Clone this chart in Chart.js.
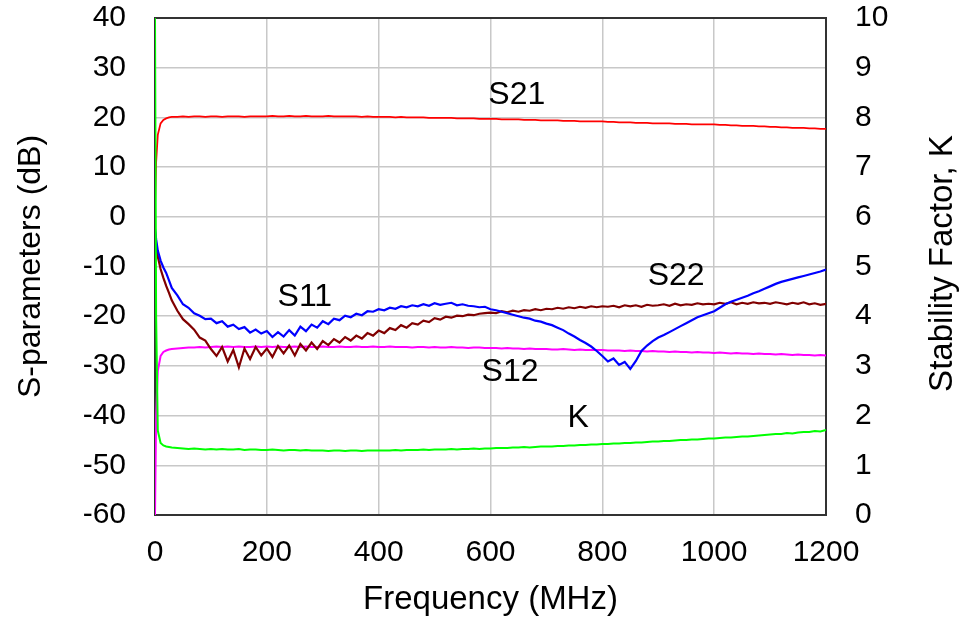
<!DOCTYPE html>
<html>
<head>
<meta charset="utf-8">
<script src="https://cdn.jsdelivr.net/npm/chart.js@4.4.0/dist/chart.umd.min.js"></script>
<style>
  html, body { margin: 0; padding: 0; background: #fff; }
  #wrap { width: 968px; height: 620px; }
</style>
</head>
<body>
<div id="wrap"><canvas id="sparChart" width="968" height="620"></canvas></div>
<script>
// frequency points, MHz
const freqs = [0, 2, 5, 10, 15, 20, 25, 30, 40, 50, 60, 70, 80, 90,
  100, 110, 120, 130, 140, 150, 160, 170, 180, 190,
  200, 210, 220, 230, 240, 250, 260, 270, 280, 290,
  300, 310, 320, 330, 340, 350, 360, 370, 380, 390,
  400, 410, 420, 430, 440, 450, 460, 470, 480, 490,
  500, 510, 520, 530, 540, 550, 560, 570, 580, 590,
  600, 610, 620, 630, 640, 650, 660, 670, 680, 690,
  700, 710, 720, 730, 740, 750, 760, 770, 780, 790,
  800, 810, 820, 830, 840, 850, 860, 870, 880, 890,
  900, 910, 920, 930, 940, 950, 960, 970, 980, 990,
  1000, 1010, 1020, 1030, 1040, 1050, 1060, 1070, 1080, 1090,
  1100, 1110, 1120, 1130, 1140, 1150, 1160, 1170, 1180, 1190,
  1200];

// S-parameters in dB
const s21 = [2, 11, 16.5, 18.8, 19.5, 19.8, 20.0, 20.1, 20.1, 20.2, 20.1, 20.2, 20.2, 20.1,
  20.2, 20.2, 20.1, 20.2, 20.2, 20.2, 20.1, 20.2, 20.2, 20.2,
  20.2, 20.3, 20.2, 20.2, 20.3, 20.2, 20.2, 20.3, 20.2, 20.2,
  20.2, 20.3, 20.2, 20.2, 20.2, 20.2, 20.2, 20.1, 20.2, 20.1,
  20.1, 20.1, 20.1, 20.0, 20.1, 20.0, 20.0, 20.0, 20.0, 19.9,
  19.9, 19.9, 19.9, 19.9, 19.8, 19.8, 19.8, 19.8, 19.7, 19.7,
  19.7, 19.7, 19.6, 19.6, 19.6, 19.6, 19.5, 19.5, 19.5, 19.4,
  19.4, 19.4, 19.4, 19.3, 19.3, 19.3, 19.2, 19.2, 19.2, 19.2,
  19.2, 19.1, 19.1, 19.0, 19.0, 19.0, 18.9, 18.9, 18.9, 18.8,
  18.8, 18.8, 18.8, 18.7, 18.7, 18.7, 18.6, 18.6, 18.6, 18.6,
  18.6, 18.5, 18.5, 18.4, 18.4, 18.3, 18.3, 18.3, 18.2, 18.2,
  18.1, 18.1, 18.0, 18.0, 17.9, 17.9, 17.9, 17.8, 17.8, 17.7,
  17.7];

const s11 = [-2.5, -4.5, -6.8, -8.8, -10.2, -11.3, -12.8, -14.3, -15.8, -17.6, -18.3, -19.4, -19.9, -20.6,
  -20.5, -21.4, -21.0, -22.1, -21.7, -22.6, -22.2, -23.3, -22.7, -23.5,
  -23.0, -24.2, -23.2, -24.1, -22.8, -23.9, -22.1, -23.0, -21.7, -22.3,
  -21.0, -21.6, -20.5, -20.8, -19.9, -20.2, -19.5, -19.8, -19.0, -19.1,
  -18.6, -18.8, -18.3, -18.5, -18.0, -18.2, -17.8, -18.0, -17.6, -17.9,
  -17.4, -17.7, -17.5, -17.3, -17.8, -17.6, -17.9, -18.0, -18.2, -18.1,
  -18.6, -18.8, -19.1, -19.4, -19.7, -20.0, -20.3, -20.5, -20.9, -21.1,
  -21.5, -21.8, -22.3, -22.8, -23.5, -24.1, -24.8, -25.4, -26.1, -27.0,
  -28.0, -29.1, -28.5, -29.8, -29.2, -30.6, -29.0, -27.0, -25.9, -25.0,
  -24.3, -23.8, -23.2, -22.6, -22.0, -21.4, -20.8, -20.2, -19.8, -19.4,
  -19.0, -18.3, -17.6, -17.1, -16.7, -16.3, -15.9, -15.4, -15.0, -14.5,
  -14.0, -13.5, -13.1, -12.8, -12.5, -12.2, -11.9, -11.6, -11.3, -11.0,
  -10.6];

const s22 = [-3.0, -5.5, -8.0, -10.5, -12.3, -13.9, -15.3, -16.8, -18.9, -20.6, -21.6, -22.7, -24.3, -24.9,
  -26.6, -28.0, -26.2, -29.1, -26.8, -30.3, -26.5, -28.6, -26.2, -27.9,
  -26.5, -28.2, -26.0, -27.5, -25.9, -27.9, -25.6, -26.9, -25.3, -26.6,
  -25.0, -25.8, -24.6, -25.3, -24.2, -24.9, -23.9, -24.5, -23.4, -23.9,
  -22.9, -23.4, -22.4, -22.8, -21.8, -22.3, -21.4, -21.7, -20.9, -21.2,
  -20.4, -20.7, -20.1, -20.3, -19.9, -20.0, -19.7, -19.8, -19.5, -19.4,
  -19.3, -19.4, -19.0, -19.2, -18.9, -19.1, -18.8, -18.9, -18.6, -18.8,
  -18.5, -18.6, -18.3, -18.5, -18.2, -18.4, -18.1, -18.3, -18.0, -18.2,
  -18.0, -18.1, -17.9, -18.2, -17.8, -18.0, -17.8, -18.1, -17.7, -17.9,
  -17.8, -17.6, -17.9, -17.5, -17.8, -17.6, -17.7, -17.4, -17.6, -17.5,
  -17.6, -17.3, -17.5, -17.2, -17.6, -17.3, -17.5, -17.2, -17.4, -17.3,
  -17.5, -17.2, -17.4, -17.6, -17.3, -17.5, -17.2, -17.6, -17.4, -17.7,
  -17.5];

const s12 = [-60, -40, -31, -28.0, -27.2, -26.9, -26.7, -26.6, -26.5, -26.4, -26.3, -26.3, -26.2, -26.3,
  -26.2, -26.1, -26.2, -26.1, -26.2, -26.1, -26.2, -26.2, -26.1, -26.2,
  -26.1, -26.2, -26.1, -26.2, -26.2, -26.1, -26.2, -26.1, -26.2, -26.2,
  -26.1, -26.2, -26.2, -26.1, -26.2, -26.2, -26.1, -26.2, -26.2, -26.1,
  -26.2, -26.2, -26.1, -26.2, -26.2, -26.2, -26.3, -26.2, -26.2, -26.3,
  -26.2, -26.3, -26.3, -26.2, -26.3, -26.3, -26.4, -26.3, -26.3, -26.4,
  -26.4, -26.4, -26.5, -26.4, -26.5, -26.5, -26.6, -26.5, -26.6, -26.6,
  -26.6, -26.7, -26.7, -26.6, -26.7, -26.8, -26.7, -26.8, -26.8, -26.8,
  -26.8, -26.9, -26.9, -26.9, -27.0, -26.9, -27.0, -27.0, -27.1, -27.0,
  -27.1, -27.1, -27.2, -27.1, -27.2, -27.2, -27.3, -27.2, -27.3, -27.3,
  -27.4, -27.3, -27.4, -27.5, -27.4, -27.5, -27.5, -27.6, -27.5, -27.6,
  -27.6, -27.7, -27.6, -27.7, -27.8, -27.7, -27.8, -27.8, -27.9, -27.8,
  -27.9];

// stability factor K (right axis)
const kFactor = [10, 4.0, 1.7, 1.45, 1.40, 1.38, 1.37, 1.36, 1.35, 1.34, 1.33, 1.34, 1.33, 1.32,
  1.33, 1.32, 1.33, 1.32, 1.32, 1.33, 1.31, 1.32, 1.32, 1.31,
  1.31, 1.32, 1.31, 1.30, 1.31, 1.31, 1.30, 1.31, 1.30, 1.30,
  1.30, 1.29, 1.30, 1.30, 1.29, 1.30, 1.30, 1.29, 1.30, 1.30,
  1.30, 1.30, 1.30, 1.31, 1.30, 1.31, 1.31, 1.31, 1.32, 1.31,
  1.32, 1.32, 1.32, 1.33, 1.32, 1.33, 1.33, 1.34, 1.33, 1.34,
  1.34, 1.35, 1.35, 1.35, 1.36, 1.36, 1.37, 1.36, 1.37, 1.38,
  1.38, 1.38, 1.39, 1.39, 1.40, 1.40, 1.41, 1.41, 1.42, 1.42,
  1.43, 1.43, 1.44, 1.44, 1.45, 1.45, 1.46, 1.46, 1.47, 1.48,
  1.48, 1.49, 1.49, 1.50, 1.51, 1.51, 1.52, 1.52, 1.53, 1.54,
  1.54, 1.55, 1.56, 1.56, 1.57, 1.58, 1.58, 1.59, 1.60, 1.61,
  1.62, 1.63, 1.63, 1.65, 1.64, 1.66, 1.67, 1.67, 1.69, 1.68,
  1.71];

const xTicks = { min: 0, max: 1200, step: 200 };
const yTicks = { min: -60, max: 40, step: 10 };
const kTicks = { min: 0, max: 10, step: 1 };

// curve labels: [text, MHz, dB]
const curveNames = [
  ['S21', 647, 24.5],
  ['S11', 268, -16.1],
  ['S22', 932, -11.9],
  ['S12', 635, -31.2],
  ['K', 757, -40.5]
];

const FONT = "'Liberation Sans', Arial, sans-serif";

function pts(vals) {
  return freqs.map((f, i) => ({ x: f, y: vals[i] }));
}

function line(label, vals, color, axis, width) {
  return {
    label, data: pts(vals), yAxisID: axis,
    borderColor: color, backgroundColor: color,
    borderWidth: width, pointRadius: 0, tension: 0, fill: false
  };
}

const framePlugin = {
  id: 'frame',
  beforeDatasetsDraw(chart) {
    const { ctx, chartArea: a } = chart;
    ctx.save();
    ctx.strokeStyle = '#333';
    ctx.lineWidth = 2;
    ctx.strokeRect(a.left, a.top, a.right - a.left, a.bottom - a.top);
    ctx.restore();
  },
  afterDraw(chart) {
    const { ctx, chartArea: a, scales } = chart;
    ctx.save();
    ctx.fillStyle = '#000';
    ctx.font = '32px ' + FONT;
    ctx.textAlign = 'center';
    ctx.textBaseline = 'middle';
    curveNames.forEach(([t, f, v]) => {
      ctx.fillText(t, scales.x.getPixelForValue(f), scales.y.getPixelForValue(v));
    });
    // right axis title, reading bottom to top
    ctx.font = '33px ' + FONT;
    ctx.translate(scales.y2.right - 25, (a.top + a.bottom) / 2 - 3);
    ctx.rotate(-Math.PI / 2);
    ctx.fillText('Stability Factor, K', 0, 0);
    ctx.restore();
  }
};

const tickFont = { family: FONT, size: 30 };
const gridStyle = { color: '#c8c8c8', lineWidth: 1.5, drawTicks: false };

function fixWidth(w) {
  return (s) => { s.width = w; s.paddingTop = 0; s.paddingBottom = 0; };
}

new Chart(document.getElementById('sparChart').getContext('2d'), {
  type: 'line',
  data: {
    datasets: [
      line('K', kFactor, '#00ff00', 'y2', 2),
      line('S11', s11, '#0000ff', 'y', 2.2),
      line('S22', s22, '#800000', 'y', 2.2),
      line('S12', s12, '#ff00ff', 'y', 2),
      line('S21', s21, '#ff0000', 'y', 1.8)
    ]
  },
  options: {
    responsive: false,
    animation: false,
    events: [],
    layout: { padding: { top: 18, left: 0, right: 0, bottom: 0 } },
    plugins: { legend: { display: false }, tooltip: { enabled: false } },
    scales: {
      x: {
        type: 'linear', position: 'bottom',
        min: xTicks.min, max: xTicks.max,
        ticks: { stepSize: xTicks.step, font: tickFont, color: '#000', padding: 20, maxRotation: 0,
                 callback: (v) => String(v) },
        grid: gridStyle,
        border: { display: false },
        title: { display: true, text: 'Frequency (MHz)', font: { family: FONT, size: 33 }, color: '#000',
                 padding: { top: 0, bottom: 0 } },
        afterFit(s) { s.height = 105; s.paddingLeft = 0; s.paddingRight = 0; }
      },
      y: {
        type: 'linear', position: 'left',
        min: yTicks.min, max: yTicks.max,
        ticks: { stepSize: yTicks.step, font: tickFont, color: '#000', padding: 29 },
        grid: gridStyle,
        border: { display: false },
        title: { display: true, text: 'S-parameters (dB)', font: { family: FONT, size: 32 }, color: '#000',
                 padding: { top: 12, bottom: 0 } },
        afterFit: fixWidth(155)
      },
      y2: {
        type: 'linear', position: 'right',
        min: kTicks.min, max: kTicks.max,
        ticks: { stepSize: kTicks.step, font: tickFont, color: '#000', padding: 29 },
        grid: { drawOnChartArea: false, drawTicks: false },
        border: { display: false },
        afterFit: fixWidth(142)
      }
    }
  },
  plugins: [framePlugin]
});
</script>
</body>
</html>
